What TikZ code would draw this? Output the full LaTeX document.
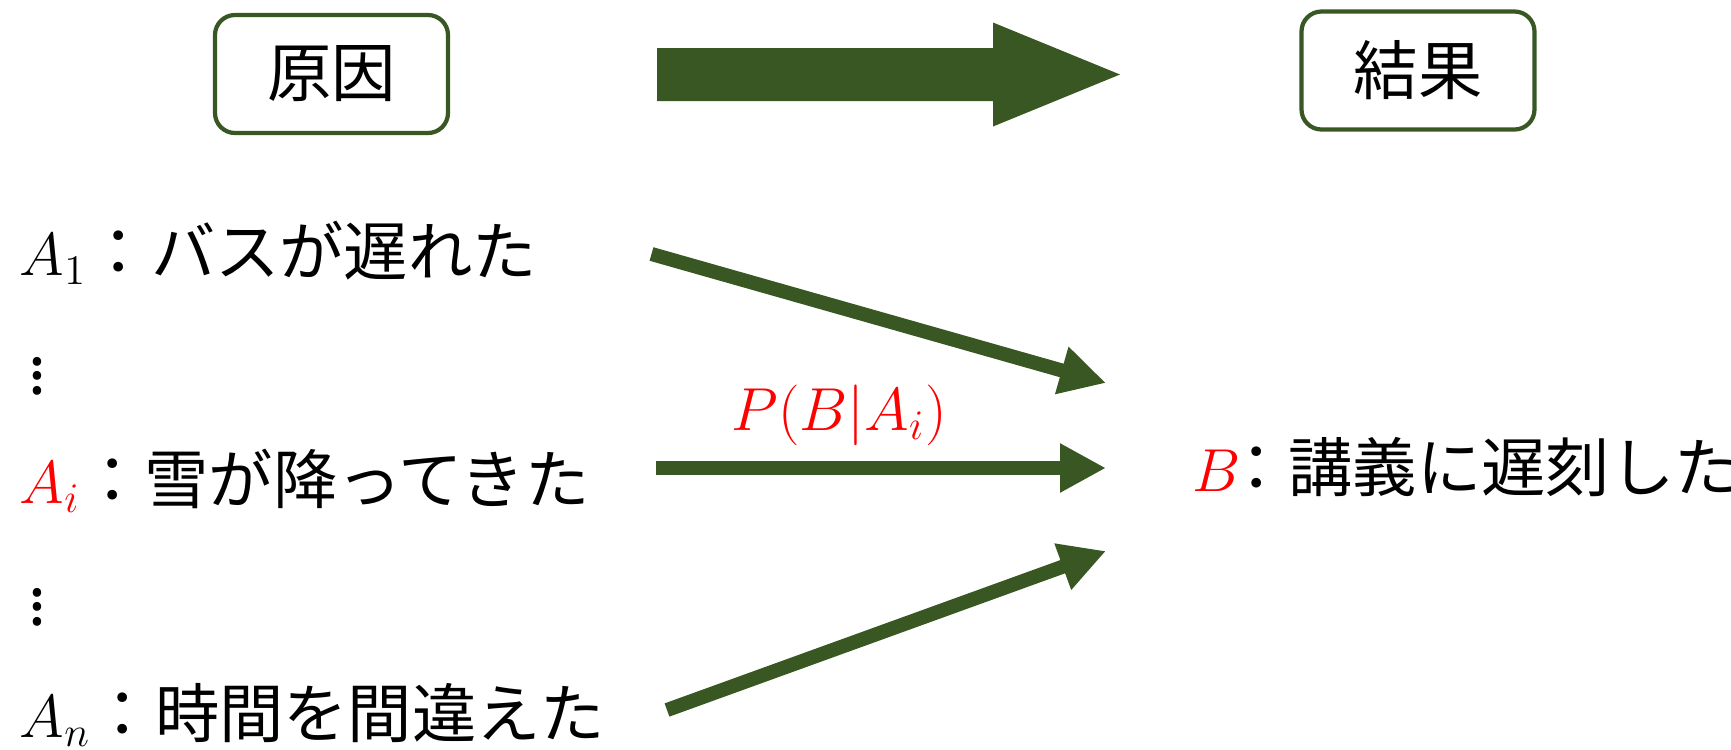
\documentclass[tikz,border=0pt]{standalone}
\usepackage{fontspec}
\newfontfamily\jp{Noto Sans CJK JP}
\usetikzlibrary{arrows.meta}
\definecolor{dgreen}{RGB}{56,87,35}
\begin{document}
\begin{tikzpicture}[>={Triangle[length=4.6mm,width=4.6mm]},line join=miter,
	font=\fontsize{18.3}{22}\selectfont\jp,
	box/.style={draw=dgreen,line width=1.2pt,rounded corners=2mm,minimum width=2.33cm,minimum height=1.18cm,inner sep=0},
	txt/.style={anchor=base west,inner sep=0},
	flow/.style={->,draw=dgreen,line width=4pt}]
				\useasboundingbox (0,0) rectangle (17.31,7.49);
				\node[box] (cause) at (3.315,6.75) {原因};
				\node[box] (effect) at (14.18,6.785) {結果};
				% 大きな矢印
				\path (6.57,6.745) coordinate (bs) (11.20,6.745) coordinate (bt);
				\fill[dgreen] (bs) ++(0,.265) -- ++(3.36,0) -- ++(0,.255) -- (bt) -- ++(-1.27,-.52) -- ++(0,.255) -- ++(-3.36,0) -- cycle;
				\node[txt] (a1) at (0.19,4.74) {$A_1$：バスが遅れた};
				\node[txt] (ai) at (0.19,2.46) {\textcolor{red}{$A_i$}：雪が降ってきた};
				\node[txt] (an) at (0.19,0.12) {$A_n$：時間を間違えた};
				\node[anchor=base,inner sep=0] (d1) at (0.375,3.55) {$\vdots$};
				\node[anchor=base,inner sep=0] (d2) at (0.37,1.24) {$\vdots$};
				\node[txt] (b) at (11.92,2.58) {\textcolor{red}{$B$}\kern-.26em：講義に遅刻した};
				\path (6.515,4.95) coordinate (s1) (11.06,3.66) coordinate (t1)
				(6.56,2.81) coordinate (s2) (11.06,2.81) coordinate (t2)
				(6.67,0.39) coordinate (s3) (11.06,1.98) coordinate (t3);
				\foreach \i in {1,2,3}{\draw[flow] (s\i)--(t\i);}
				\node[red,anchor=base,inner sep=0] (p) at (8.39,3.19) {$P(B|A_i)$};
		\end{tikzpicture}
\end{document}
